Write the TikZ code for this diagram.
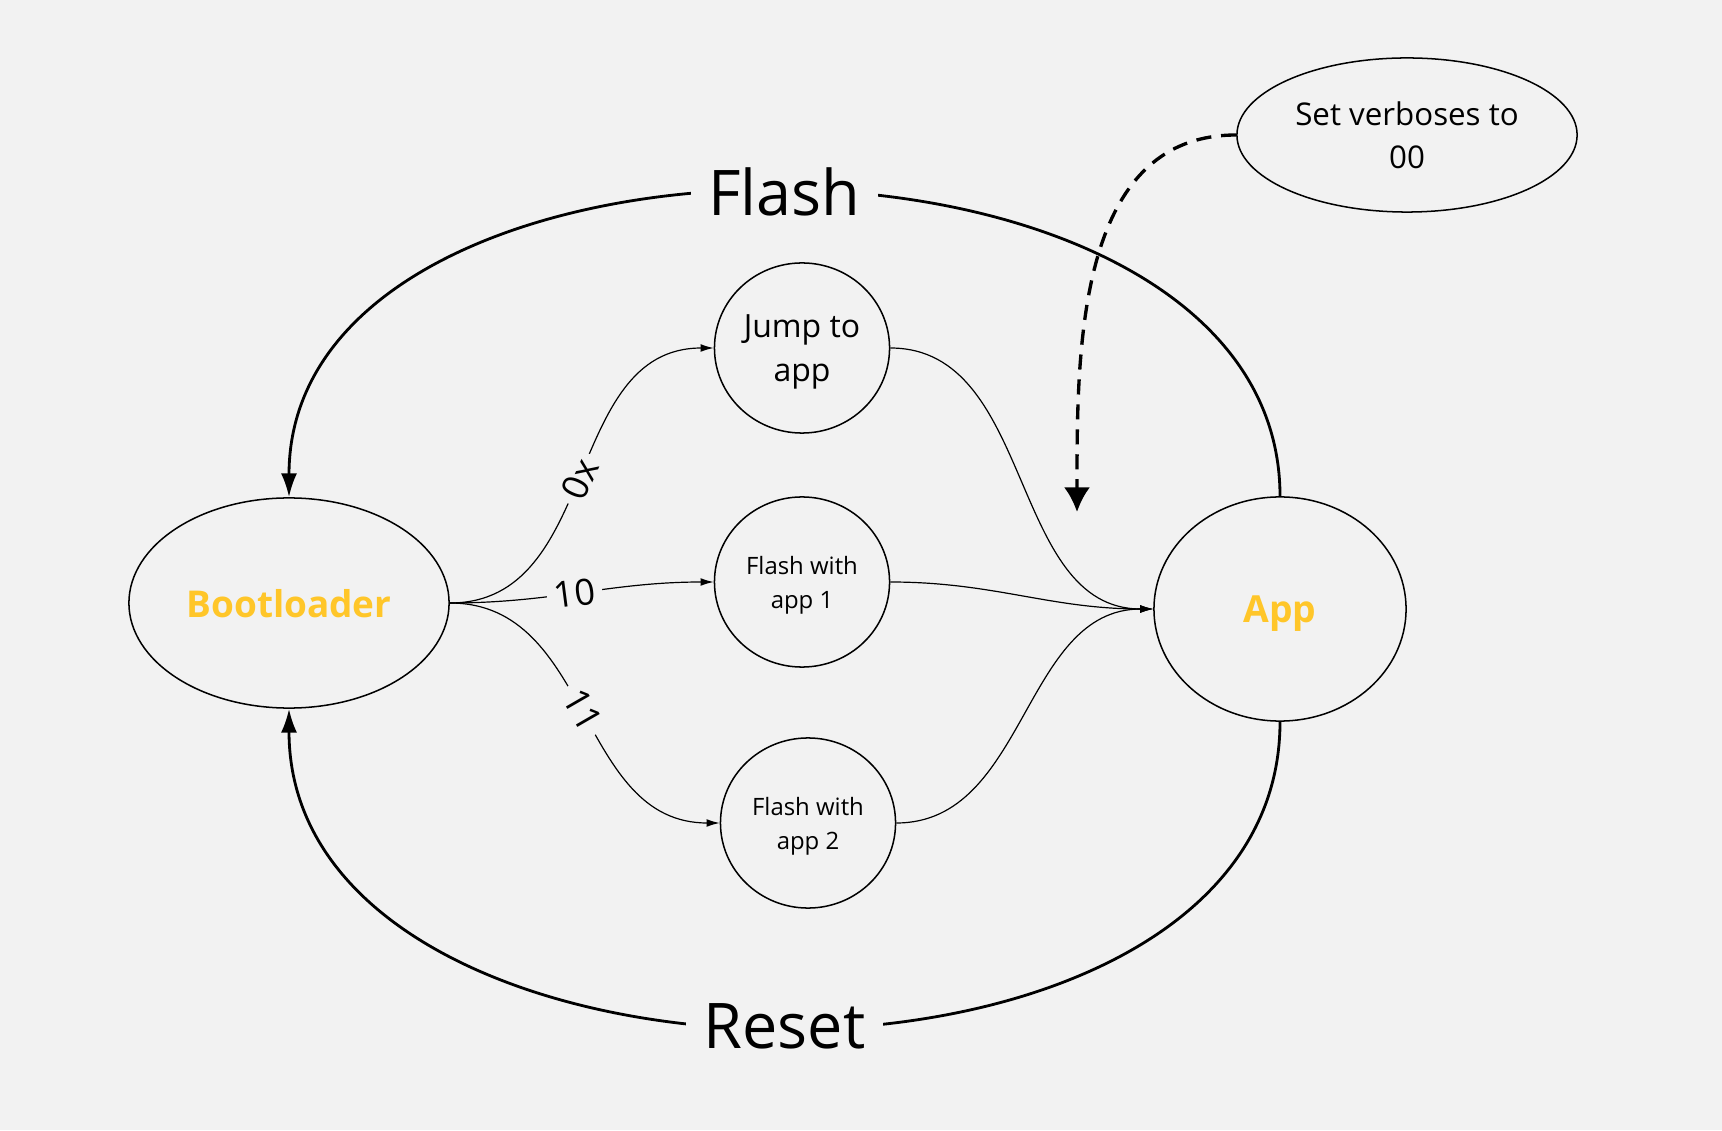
\documentclass[tikz,border=0pt]{standalone}
\usepackage{fontspec}
\setmainfont{Open Sans}
\usetikzlibrary{shapes.geometric,arrows.meta}
\definecolor{bg}{HTML}{F2F2F2}
\definecolor{gold}{RGB}{255,198,41}
\begin{document}
\begin{tikzpicture}[x=0.01cm, y=0.01cm,
		state/.style={draw, ellipse, line width=0.43pt, inner sep=0pt, align=center, text depth=0pt},
		lbl/.style={fill=bg, inner sep=2pt, sloped, font=\fontsize{10.3pt}{12pt}\selectfont},
		big/.style={fill=bg, inner sep=5pt, font=\fontsize{17.9pt}{20pt}\selectfont},
		thin/.style={line width=0.34pt, -{Latex[length=3.7pt, width=2.2pt]}},
		loop/.style={line width=0.8pt, -{Latex[length=6.8pt, width=4.6pt]}},
	]
	\fill[bg] (0,0) rectangle (1722,1130);
	\useasboundingbox (0,0) rectangle (1722,1130);

	\node[state, minimum width=3.2cm, minimum height=2.1cm, text=gold,
			font=\fontsize{10.5pt}{13pt}\selectfont\bfseries,
		] (boot) at (289,527) {Bootloader};
	\node[state, minimum width=2.52cm, minimum height=2.24cm, text=gold,
			font=\fontsize{10.6pt}{13pt}\selectfont\bfseries,
		] (app) at (1280,521) {App};

	\node[state, minimum width=1.75cm, minimum height=1.7cm,
			font=\fontsize{9.1pt}{12.5pt}\selectfont,
		] (jump) at (802,782) {Jump to\\ app};
	\node[state, minimum width=1.75cm, minimum height=1.7cm,
			font=\fontsize{6.8pt}{9.7pt}\selectfont,
		] (fw1) at (802,548) {Flash with\\ app 1};
	\node[state, minimum width=1.75cm, minimum height=1.7cm,
			font=\fontsize{6.8pt}{9.7pt}\selectfont,
		] (fw2) at (808,307) {Flash with\\ app 2};

	\node[state, minimum width=3.4cm, minimum height=1.54cm,
			font=\fontsize{8.9pt}{12.2pt}\selectfont,
		] (verb) at (1407,995) {Set verboses to\\ 00};
	\coordinate (tip) at (1077,618);

	\draw[thin] (boot.east) to[out=0, in=180, looseness=1.05] node[lbl, pos=0.49] {0x} (jump.west);
	\draw[thin] (boot.east) to[out=0, in=180] node[lbl, pos=0.47] {10} (fw1.west);
	\draw[thin] (boot.east) to[out=0, in=180, looseness=1.05] node[lbl, pos=0.49] {11} (fw2.west);

	\draw[thin] (jump.east) to[out=0, in=180] (app.west);
	\draw[thin] (fw1.east) to[out=0, in=180] (app.west);
	\draw[thin] (fw2.east) to[out=0, in=180] (app.west);

	\draw[loop] (app.north) to[out=90, in=90, looseness=1.05] node[big] {Flash} (boot.north);
	\draw[loop] (app.south) to[out=-90, in=-90, looseness=1.07] node[big] {Reset} (boot.south);

	\draw[line width=0.95pt, dash pattern=on 4.3pt off 2.8pt,
		-{Latex[length=7pt, width=7.4pt]}] (verb.west) to[out=180, in=90] (tip);
\end{tikzpicture}
\end{document}
